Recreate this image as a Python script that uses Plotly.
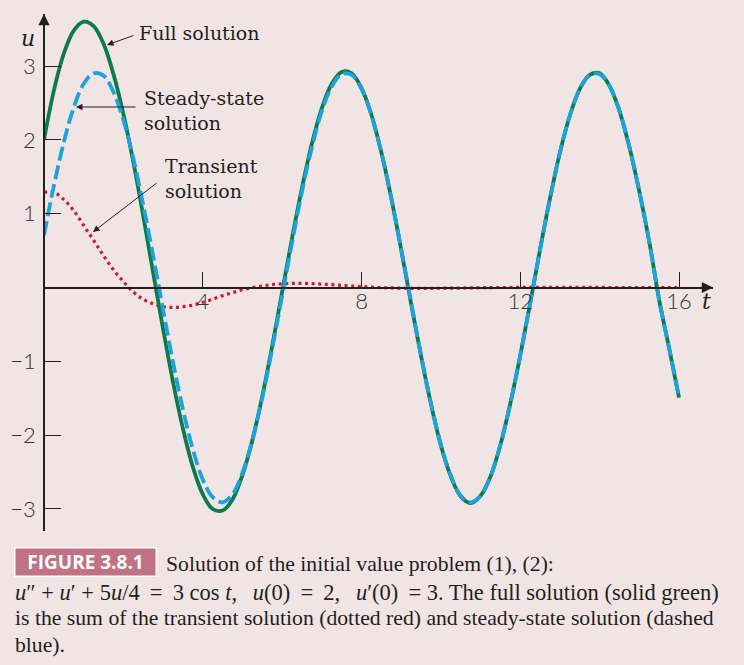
import plotly.graph_objects as go

W, H = 744, 665

# values, step 0.25 in t
t = [0.0, 0.25, 0.5, 0.75, 1.0, 1.25, 1.5, 1.75, 2.0, 2.25, 2.5, 2.75, 3.0, 3.25, 3.5, 3.75,
     4.0, 4.25, 4.5, 4.75, 5.0, 5.25, 5.5, 5.75, 6.0, 6.25, 6.5, 6.75, 7.0, 7.25, 7.5, 7.75,
     8.0, 8.25, 8.5, 8.75, 9.0, 9.25, 9.5, 9.75, 10.0, 10.25, 10.5, 10.75, 11.0, 11.25, 11.5,
     11.75, 12.0, 12.25, 12.5, 12.75, 13.0, 13.25, 13.5, 13.75, 14.0, 14.25, 14.5, 14.75,
     15.0, 15.25, 15.5, 15.75, 16.0]
full = [2.00, 2.67, 3.17, 3.48, 3.60, 3.54, 3.30, 2.89, 2.35, 1.70, 0.97, 0.20, -0.56, -1.28,
        -1.91, -2.43, -2.80, -3.00, -3.02, -2.87, -2.54, -2.07, -1.47, -0.79, -0.06, 0.67,
        1.35, 1.95, 2.43, 2.76, 2.92, 2.90, 2.70, 2.34, 1.83, 1.21, 0.51, -0.22, -0.93, -1.58,
        -2.14, -2.56, -2.83, -2.92, -2.82, -2.56, -2.13, -1.57, -0.92, -0.21, 0.52, 1.21,
        1.83, 2.33, 2.69, 2.88, 2.90, 2.73, 2.39, 1.90, 1.30, 0.62, -0.17, -0.82, -1.49]
steady = [0.71, 1.38, 1.97, 2.44, 2.76, 2.90, 2.87, 2.65, 2.27, 1.75, 1.12, 0.43, -0.30, -1.01,
          -1.65, -2.19, -2.60, -2.84, -2.91, -2.80, -2.51, -2.06, -1.49, -0.83, -0.11, 0.61,
          1.30, 1.90, 2.39, 2.72, 2.89, 2.88, 2.69, 2.33, 1.83, 1.21, 0.52, -0.20, -0.92,
          -1.57, -2.13, -2.55, -2.82, -2.91, -2.82, -2.56, -2.13, -1.57, -0.92, -0.21, 0.52,
          1.21, 1.83, 2.33, 2.69, 2.88, 2.89, 2.73, 2.39, 1.90, 1.30, 0.62, -0.17, -0.82, -1.49]
transient = [1.29, 1.29, 1.19, 1.04, 0.84, 0.64, 0.43, 0.24, 0.08, -0.06, -0.16, -0.22, -0.26,
             -0.27, -0.26, -0.24, -0.20, -0.16, -0.11, -0.07, -0.03, -0.003, 0.02, 0.04, 0.05,
             0.056, 0.056, 0.052, 0.046, 0.038, 0.029, 0.020, 0.012, 0.004, -0.002, -0.006,
             -0.009, -0.011, -0.012, -0.011, -0.010, -0.009, -0.007, -0.005, -0.003, -0.001,
             0.0, 0.0, 0.002, 0.002, 0.002, 0.002, 0.002, 0.002, 0.002, 0.001, 0.001, 0.0,
             0.0, 0.0, 0.0, 0.0, 0.0, 0.0, 0.0]

x_ticks = [4, 8, 12, 16]
y_ticks = [-3, -2, -1, 1, 2, 3]

GREEN = "#0e7a4b"
BLUE = "#1ea2dc"
RED = "#cc1b2f"
BG = "#f1e4e5"
INK = "#231f20"

# pixel layout of the plot box
x0_px, x1_px = 44, 713
y0_px, y1_px = 531, 14
px_per_t = 39.69
px_per_u = 73.83
zero_px = 287.5


def pxx(p):
    return p / W


def pxy(p):
    return 1 - p / H


fig = go.Figure()
fig.add_trace(go.Scatter(x=t, y=transient, mode="lines", line_shape="spline",
                         line=dict(color=RED, width=3.2, dash="3px,3.6px")))
fig.add_trace(go.Scatter(x=t, y=full, mode="lines", line_shape="spline",
                         line=dict(color=GREEN, width=3.8)))
fig.add_trace(go.Scatter(x=t, y=steady, mode="lines", line_shape="spline",
                         line=dict(color=BLUE, width=3.8, dash="14px,5px")))

tick_font = dict(family="Lato", size=22, color="#333333", weight=300)

fig.update_layout(
    width=W, height=H,
    margin=dict(l=0, r=0, t=0, b=0),
    paper_bgcolor=BG, plot_bgcolor=BG,
    showlegend=False,
    xaxis=dict(
        domain=[pxx(x0_px), pxx(x1_px)],
        range=[0, (x1_px - x0_px) / px_per_t],
        anchor="free", position=pxy(zero_px),
        showline=True, linecolor=INK, linewidth=1.6,
        showgrid=False, zeroline=False,
        tickvals=x_ticks, ticks="inside", ticklen=15, tickwidth=1, tickcolor=INK,
        tickfont=tick_font, ticklabelstandoff=-6,
    ),
    yaxis=dict(
        domain=[pxy(y0_px), pxy(y1_px)],
        range=[(zero_px - y0_px) / px_per_u, (zero_px - y1_px) / px_per_u],
        anchor="free", position=pxx(x0_px),
        showline=True, linecolor=INK, linewidth=1.6,
        showgrid=False, zeroline=False,
        tickvals=y_ticks, ticks="inside", ticklen=16, tickwidth=1, tickcolor=INK,
        tickfont=tick_font, ticklabelstandoff=3,
    ),
)

# axis arrowheads
x_end = (x1_px - x0_px) / px_per_t
y_end = (zero_px - y1_px) / px_per_u
fig.add_annotation(x=x_end, y=0, ax=-14, ay=0, text="", showarrow=True,
                   arrowhead=2, arrowsize=1.4, arrowwidth=1.6, arrowcolor=INK)
fig.add_annotation(x=0, y=y_end, ax=0, ay=14, text="", showarrow=True,
                   arrowhead=2, arrowsize=1.4, arrowwidth=1.6, arrowcolor=INK)

serif = dict(family="DejaVu Serif", size=19, color=INK)
italic = dict(family="DejaVu Serif", size=22, color=INK)

# axis names
fig.add_annotation(x=pxx(37), y=pxy(24), xref="paper", yref="paper", text="<i>u</i>",
                   showarrow=False, xanchor="right", font=italic)
fig.add_annotation(x=pxx(700), y=pxy(302), xref="paper", yref="paper", text="<i>t</i>",
                   showarrow=False, xanchor="left", font=italic)

# curve labels
labels = [
    ("Full solution", 137, 33),
    ("Steady-state<br>solution", 142, 110),
    ("Transient<br>solution", 163, 178),
]
for txt, lx, ly in labels:
    fig.add_annotation(x=pxx(lx), y=pxy(ly), xref="paper", yref="paper", text=txt,
                       showarrow=False, xanchor="left", yanchor="middle", align="left",
                       font=serif)

# pointer arrows (head on curve, tail offset in px)
pointers = [(1.587, 3.285, 28, -10), (0.806, 2.445, 61, 0), (1.235, 0.752, 65, -50)]
for ax_t, ax_u, dx, dy in pointers:
    fig.add_annotation(x=ax_t, y=ax_u, ax=dx, ay=dy, text="", showarrow=True,
                       arrowhead=2, arrowsize=1.3, arrowwidth=1, arrowcolor=INK)

# caption
fig.add_annotation(x=pxx(14), y=pxy(561.5), xref="paper", yref="paper",
                   text="FIGURE 3.8.1", showarrow=False, xanchor="left", yanchor="middle",
                   width=140, height=27, align="center", valign="middle",
                   bgcolor="#c07385", bordercolor="#ffffff", borderwidth=1.5, borderpad=0,
                   font=dict(family="Open Sans", size=19, color="#ffffff", weight=700))
cap_font = dict(family="Liberation Serif", size=21.7, color=INK)
NB = "\u00a0"
TS = "\u2009"
line2 = (f"<i>u</i>″ + <i>u</i>′ + 5<i>u</i>/4{TS} ={TS} 3 cos <i>t</i>,{NB}{TS}{NB}"
         f"<i>u</i>(0){TS} ={TS} 2,{NB}{TS}{NB}<i>u</i>′(0){TS} = 3. The full solution (solid green)")
caption_lines = [
    (164, 564, "Solution of the initial value problem (1), (2):", 21.7),
    (13, 592, line2, 22.5),
    (13, 618, "is the sum of the transient solution (dotted red) and steady-state solution (dashed",
     21.7),
    (13, 645, "blue).", 21.7),
]
for cx, cy, txt, fs in caption_lines:
    fig.add_annotation(x=pxx(cx), y=pxy(cy), xref="paper", yref="paper", text=txt,
                       showarrow=False, xanchor="left", yanchor="middle",
                       font=dict(cap_font, size=fs))

fig.write_html("out.html", config={"displayModeBar": False},
               post_script="document.body.style.margin='0';document.body.style.overflow='hidden';")
